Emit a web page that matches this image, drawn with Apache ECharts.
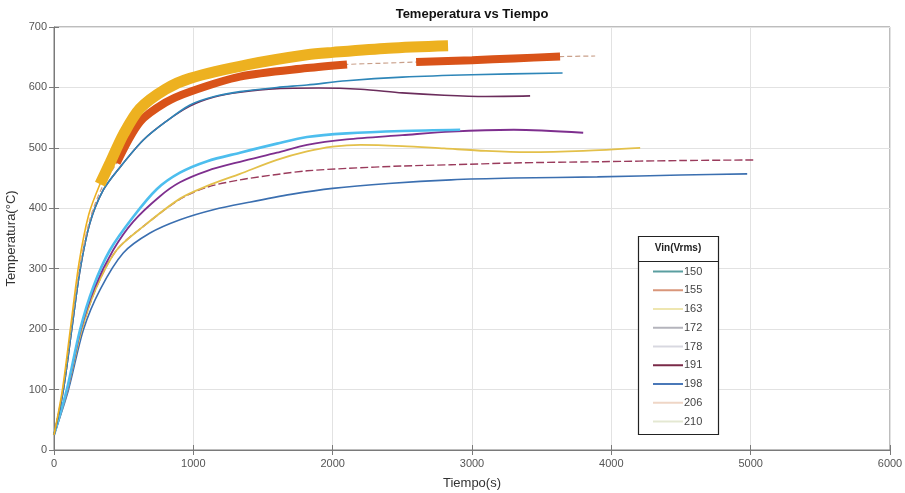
<!DOCTYPE html>
<html>
<head>
<meta charset="utf-8">
<title>Temeperatura vs Tiempo</title>
<script src="https://cdn.jsdelivr.net/npm/echarts@6/dist/echarts.min.js"></script>
<style>
  html, body { margin: 0; padding: 0; background: #fff; }
  #chart { width: 905px; height: 493px; }
</style>
</head>
<body>
<div id="chart"></div>
<script>
// Vin(Vrms) de cada ensayo
const voltajes = ['150', '155', '163', '172', '178', '191', '198', '206', '210']

// tiempo (s) y temperatura (°C)
const t150 = [0, 103, 211, 330, 497, 689, 904, 1150, 1400, 1700, 2000, 2400, 2850, 3300, 3900, 4500, 4975]
const T150 = [25, 99, 199, 265, 326, 359, 381, 398, 410, 423, 433, 441, 447, 450, 452, 455, 457]

const t155 = [0, 96, 199, 306, 450, 641, 904, 1100, 1335, 1600, 1816, 2100, 2500, 2850, 3300, 3900, 4500, 5032]
const T155 = [25, 99, 199, 270, 331, 370, 415, 435, 447, 456, 462, 466, 470, 472, 475, 477, 479, 480]

const t163 = [0, 96, 199, 306, 450, 641, 904, 1100, 1335, 1600, 1816, 2000, 2200, 2500, 2800, 3100, 3400, 3800, 4207]
const T163 = [25, 99, 199, 270, 331, 370, 416, 437, 457, 480, 494, 502, 505, 503, 499, 495, 493, 495, 500]

const t172 = [0, 94, 192, 290, 425, 569, 761, 904, 1100, 1335, 1600, 1816, 2100, 2500, 2850, 3300, 3798]
const T172 = [25, 99, 199, 268, 331, 378, 420, 443, 462, 477, 492, 505, 514, 521, 527, 530, 525]

const t178 = [0, 91, 187, 282, 402, 569, 739, 904, 1100, 1335, 1600, 1816, 2100, 2500, 2915]
const T178 = [25, 99, 199, 270, 331, 386, 432, 459, 478, 492, 507, 518, 524, 528, 530]

const t191 = [0, 67, 127, 187, 258, 353, 474, 641, 800, 976, 1150, 1335, 1600, 1900, 2200, 2500, 2800, 3100, 3417]
const T191 = [25, 99, 199, 298, 376, 430, 468, 513, 543, 569, 584, 592, 598, 599, 597, 591, 587, 585, 586]

const t198 = [0, 67, 127, 187, 258, 353, 474, 641, 800, 976, 1150, 1335, 1600, 1816, 2100, 2500, 3000, 3650]
const T198 = [25, 99, 199, 298, 376, 430, 468, 513, 543, 571, 585, 593, 600, 604, 611, 617, 621, 624]

const t206 = [0, 62, 122, 182, 255, 340, 450, 617, 800, 976, 1335, 1816, 2103, 2350, 2599, 3000, 3300, 3632, 3884]
const T206 = [25, 99, 200, 300, 380, 432, 475, 543, 575, 593, 618, 632, 638, 640, 642, 645, 648, 651, 652]
// tramos donde la traza 206 se ve gruesa
const tramos206 = [[450, 2103], [2599, 3632]]

const t210 = [0, 60, 120, 180, 250, 330, 402, 500, 617, 800, 976, 1400, 1816, 2000, 2400, 2828]
const T210 = [25, 99, 205, 310, 390, 440, 475, 523, 565, 597, 615, 638, 654, 658, 665, 669]
const inicioGrueso210 = 330

const colores = {
  '150': '#3b6fb0', '155': '#9a3b5c', '163': '#e3c04a', '172': '#7e2f8e', '178': '#4dbeee',
  '191': '#6b2d5c', '198': '#2e86b8', '206': '#d95319', '210': '#edb120'
}
// la leyenda del original se ve desteñida
const coloresLeyenda = {
  '150': '#5a9ea0', '155': '#d9967a', '163': '#eee6b0', '172': '#b4b4bc', '178': '#d8d8e0',
  '191': '#7a2a48', '198': '#4a78b8', '206': '#efd6c6', '210': '#e4e8d2'
}

function pares(t, T) {
  return t.map((x, i) => [x, T[i]])
}

function linea(name, data, width, extra) {
  return Object.assign({
    name: name,
    type: 'line',
    data: data,
    showSymbol: false,
    symbol: 'none',
    smooth: 0.3,
    lineStyle: { color: colores[name], width: width },
    itemStyle: { color: colores[name] },
    emphasis: { disabled: true }
  }, extra || {})
}

// partes gruesas: null fuera de los tramos
const grueso206 = pares(t206, T206).map(p =>
  tramos206.some(r => p[0] >= r[0] && p[0] <= r[1]) ? p : [p[0], null])
const fino210 = pares(t210, T210).filter(p => p[0] <= inicioGrueso210 + 80)
const grueso210 = pares(t210, T210).filter(p => p[0] >= inicioGrueso210)

const series = [
  linea('150', pares(t150, T150), 1.6),
  linea('155', pares(t155, T155), 1.4, { lineStyle: { color: colores['155'], width: 1.4, type: [8, 3] } }),
  linea('163', pares(t163, T163), 1.8),
  linea('172', pares(t172, T172), 1.8),
  linea('178', pares(t178, T178), 2.6),
  linea('191', pares(t191, T191), 1.6),
  linea('198', pares(t198, T198), 1.6),
  linea('206', pares(t206, T206), 1.2, { lineStyle: { color: '#c9a08a', width: 1.2, type: [5, 3] } }),
  linea('206', grueso206, 8, { connectNulls: false, lineStyle: { color: colores['206'], width: 8, cap: 'butt' } }),
  linea('210', fino210, 1.6),
  linea('210', grueso210, 11, { lineStyle: { color: colores['210'], width: 11, cap: 'butt' } })
]

const chart = echarts.init(document.getElementById('chart'))

chart.setOption({
  animation: false,
  backgroundColor: '#fff',
  textStyle: { fontFamily: 'Liberation Sans, Arial, sans-serif' },
  grid: {
    left: 54, right: 15, top: 27, bottom: 43,
    outerBoundsMode: 'none',
    containLabel: false,
    show: true, borderColor: '#7a7a7a', borderWidth: 1
  },
  xAxis: [{
    type: 'value', min: 0, max: 6000, interval: 1000,
    name: 'Tiempo(s)', nameLocation: 'middle', nameGap: 27,
    nameTextStyle: { fontSize: 13, color: '#333' },
    axisLine: { show: true, lineStyle: { color: '#7a7a7a' } },
    axisTick: { inside: true, length: 5, lineStyle: { color: '#7a7a7a' } },
    axisLabel: { fontSize: 11, color: '#555', margin: 8, formatter: v => String(v) },
    splitLine: { show: true, lineStyle: { color: '#e2e2e2' } }
  }, {
    type: 'value', min: 0, max: 6000, interval: 1000, position: 'top',
    axisLine: { show: false },
    axisTick: { inside: true, length: 5, lineStyle: { color: '#7a7a7a' } },
    axisLabel: { show: false },
    splitLine: { show: false }
  }],
  yAxis: [{
    type: 'value', min: 0, max: 700, interval: 100,
    name: 'Temperatura(°C)', nameLocation: 'middle', nameGap: 22,
    nameTextStyle: { fontSize: 13, color: '#333' },
    axisLine: { show: true, lineStyle: { color: '#7a7a7a' } },
    axisTick: { show: true, inside: true, length: 5, lineStyle: { color: '#7a7a7a' } },
    axisLabel: { fontSize: 11, color: '#555', margin: 7, formatter: v => String(v) },
    splitLine: { show: true, lineStyle: { color: '#e2e2e2' } }
  }, {
    type: 'value', min: 0, max: 700, interval: 100, position: 'right',
    axisLine: { show: false },
    axisTick: { show: true, inside: true, length: 5, lineStyle: { color: '#7a7a7a' } },
    axisLabel: { show: false },
    splitLine: { show: false }
  }],
  legend: {
    orient: 'vertical',
    left: 648, top: 261,
    itemWidth: 30, itemHeight: 10, itemGap: 7.75,
    z: 10,
    selectedMode: false,
    textStyle: { fontSize: 11, color: '#444', padding: [0, 0, 0, -4] },
    data: voltajes.map(v => ({
      name: v,
      icon: 'path://M0,5 L30,5 L30,7 L0,7 Z',
      itemStyle: { color: coloresLeyenda[v] },
      lineStyle: { color: coloresLeyenda[v], width: 2.5 }
    }))
  },
  graphic: [
    {
      type: 'text', x: 472, y: 8, z: 10,
      style: { text: 'Temeperatura vs Tiempo', fontSize: 13, fontWeight: 'bold', fill: '#111', align: 'center' }
    },
    {
      type: 'rect', z: 8,
      shape: { x: 638.5, y: 236.5, width: 80, height: 198 },
      style: { fill: '#fff', stroke: '#222', lineWidth: 1.2 }
    },
    {
      type: 'line', z: 9,
      shape: { x1: 638.5, y1: 261.5, x2: 718.5, y2: 261.5 },
      style: { stroke: '#222', lineWidth: 1 }
    },
    {
      type: 'text', z: 9, x: 678, y: 243,
      style: { text: 'Vin(Vrms)', fontSize: 10, fontWeight: 'bold', fill: '#222', align: 'center' }
    }
  ],
  series: series
})
</script>
</body>
</html>
